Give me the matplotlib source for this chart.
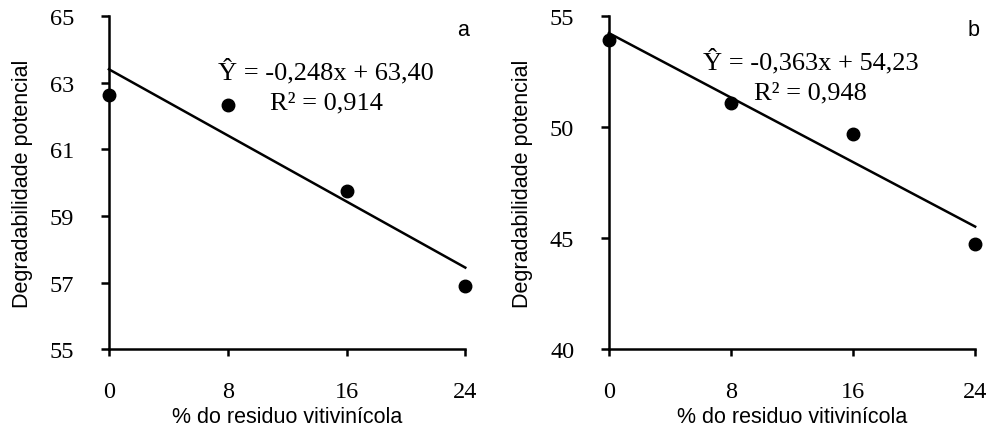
import matplotlib
matplotlib.use("Agg")
import matplotlib.pyplot as plt
import numpy as np

# data
doses = [0, 8, 16, 24]
deg_a = [62.63, 62.33, 59.75, 56.9]
deg_b = [53.92, 51.09, 49.67, 44.75]

# fitted equations shown on the chart
coef_a = (-0.248, 63.40)
coef_b = (-0.363, 54.23)
eq_a = ["Ŷ = -0,248x + 63,40", "R² = 0,914"]
eq_b = ["Ŷ = -0,363x + 54,23", "R² = 0,948"]

ylim_a = (55, 65)
yticks_a = [55, 57, 59, 61, 63, 65]
ylim_b = (40, 55)
yticks_b = [40, 45, 50, 55]

SERIF = "Liberation Serif"
SANS = "Liberation Sans"


def draw_panel(ax, values, coef, eq, ylim, yticks, letter, eq_pos, letter_x):
    ax.plot(doses, values, "o", color="black", markersize=9, clip_on=False, zorder=3)
    xs = np.array([doses[0], doses[-1]])
    ax.plot(xs, coef[0] * xs + coef[1], color="black", linewidth=1.8, clip_on=False)

    ax.set_xlim(doses[0], doses[-1])
    ax.set_ylim(*ylim)
    ax.set_xticks(doses)
    ax.set_yticks(yticks)
    for side in ("top", "right"):
        ax.spines[side].set_visible(False)
    for side in ("left", "bottom"):
        ax.spines[side].set_linewidth(1.8)
    ax.tick_params(axis="y", direction="out", length=6, width=1.8, pad=19)
    ax.tick_params(axis="x", direction="out", length=5, width=1.8, pad=18)
    for lab in ax.get_xticklabels() + ax.get_yticklabels():
        lab.set_fontfamily(SERIF)
        lab.set_fontsize(17.5)

    ax.set_xlabel("% do residuo vitivinícola", fontfamily=SANS, fontsize=15.5, labelpad=3)
    ax.set_ylabel("Degradabilidade potencial", fontfamily=SANS, fontsize=15.5, labelpad=12)

    ax.text(letter_x, 0.99, letter, transform=ax.transAxes, ha="right", va="top",
            fontfamily=SANS, fontsize=15.5)
    x0, y0 = eq_pos
    ax.text(x0, y0, eq[0], transform=ax.transAxes, ha="center", va="center",
            fontfamily=SERIF, fontsize=19)
    ax.text(x0, y0 - 0.095, eq[1], transform=ax.transAxes, ha="center", va="center",
            fontfamily=SERIF, fontsize=19)


fig = plt.figure(figsize=(9.9, 4.35), dpi=100)
ax_a = fig.add_axes([0.110, 0.195, 0.360, 0.766])
ax_b = fig.add_axes([0.615, 0.195, 0.370, 0.766])

draw_panel(ax_a, deg_a, coef_a, eq_a, ylim_a, yticks_a, "a", (0.61, 0.835), 1.01)
draw_panel(ax_b, deg_b, coef_b, eq_b, ylim_b, yticks_b, "b", (0.55, 0.865), 1.013)

fig.savefig("out.png", dpi=100)
